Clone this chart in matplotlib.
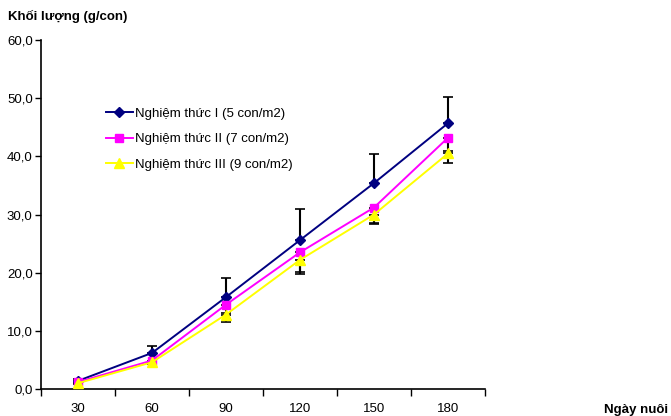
import numpy as np
import matplotlib.pyplot as plt

# data
days = ["30", "60", "90", "120", "150", "180"]
nt1 = [1.4, 6.2, 15.8, 25.6, 35.4, 45.7]
nt2 = [1.2, 4.9, 14.5, 23.5, 31.2, 43.2]
nt3 = [1.0, 4.6, 12.8, 22.2, 30.0, 40.5]
err1_up = [0.3, 1.2, 3.3, 5.4, 5.0, 4.5]
err2_dn = [0.2, 0.3, 1.4, 3.4, 2.8, 2.3]
err3_dn = [0.2, 0.3, 1.3, 2.5, 1.5, 1.7]
labels = ["Nghiệm thức I (5 con/m2)", "Nghiệm thức II (7 con/m2)",
          "Nghiệm thức III (9 con/m2)"]

plt.rcParams['font.family'] = ['Liberation Sans', 'DejaVu Sans']

fig = plt.figure(figsize=(6.71, 4.16), dpi=100)
ax = fig.add_axes([0.0611, 0.0649, 0.6617, 0.8389])

x = np.arange(len(days))
zero = [0] * len(days)

# error bars first, so markers sit on top
ax.errorbar(x, nt1, yerr=[zero, err1_up], fmt='none', ecolor='black',
            elinewidth=1.5, capsize=3.5, capthick=1.2, zorder=2)
ax.errorbar(x, nt2, yerr=[err2_dn, zero], fmt='none', ecolor='black',
            elinewidth=1.5, capsize=3.5, capthick=1.2, zorder=2)
ax.errorbar(x, nt3, yerr=[err3_dn, zero], fmt='none', ecolor='black',
            elinewidth=1.5, capsize=3.5, capthick=1.2, zorder=2)

ax.plot(x, nt1, color='#000080', marker='D', markersize=5, lw=1.4,
        label=labels[0], zorder=3)
ax.plot(x, nt2, color='#FF00FF', marker='s', markersize=6, lw=1.4,
        label=labels[1], zorder=3)
ax.plot(x, nt3, color='#FFFF00', marker='^', markersize=7, lw=1.4,
        label=labels[2], zorder=3)

ax.set_xlim(-0.5, len(days) - 0.5)
ax.set_ylim(0, 60)
ax.set_yticks(np.arange(0, 61, 10))
ax.set_yticklabels(["%d,0" % v for v in range(0, 61, 10)], fontsize=9.5)
ax.set_xticks(np.arange(-0.5, len(days), 1.0))
ax.set_xticklabels([])
ax.set_xticks(x, minor=True)
ax.set_xticklabels(days, minor=True, fontsize=9.5)
ax.tick_params(axis='x', which='major', length=5, width=1, direction='out')
ax.tick_params(axis='x', which='minor', length=0, pad=10)
ax.tick_params(axis='y', length=4, width=1, pad=2)

for s in ['top', 'right']:
    ax.spines[s].set_visible(False)
for s in ['left', 'bottom']:
    ax.spines[s].set_linewidth(1.2)

ax.legend(loc='upper left', bbox_to_anchor=(0.12, 0.84), frameon=False,
          fontsize=9.5, handlelength=2.0, handletextpad=0.2, labelspacing=1.0)

fig.text(0.012, 0.952, "Khối lượng (g/con)", fontsize=9.5, fontweight='bold')
fig.text(0.9, 0.008, "Ngày nuôi", fontsize=9.5, fontweight='bold')

fig.savefig("out.png", dpi=100)
